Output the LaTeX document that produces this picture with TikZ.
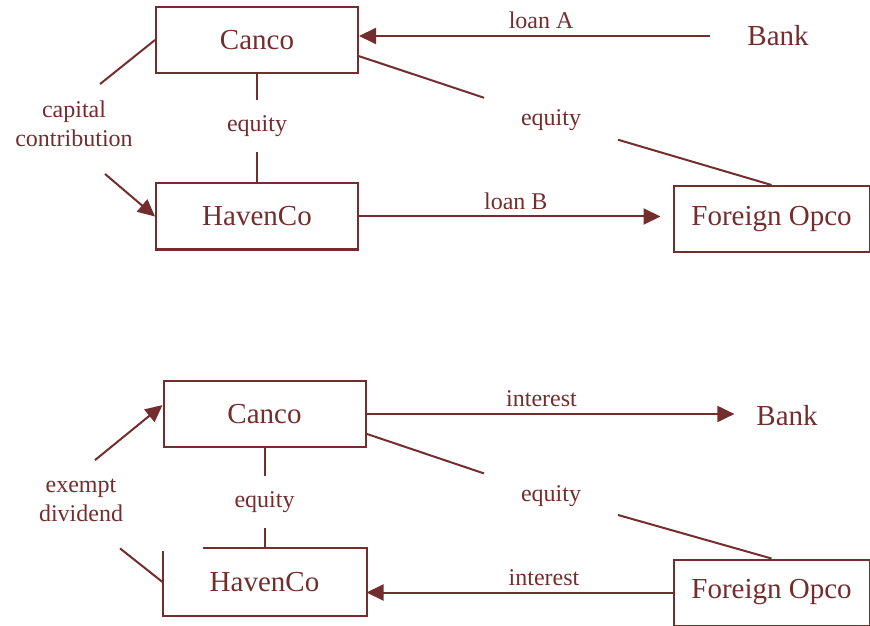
\documentclass[tikz,border=0pt]{standalone}
\usepackage{fontspec}
\setmainfont{Liberation Serif}
\usetikzlibrary{arrows.meta,positioning}
\definecolor{tpbrown}{RGB}{115,45,45}

\begin{document}
\begin{tikzpicture}[x=0.5pt, y=-0.5pt, line width=1pt, color=tpbrown,
    box/.style={draw, minimum width=101pt, minimum height=33pt,
                font=\fontsize{14.5}{17}\selectfont},
    party/.style={font=\fontsize{14.5}{17}\selectfont, inner sep=0pt},
    lbl/.style={font=\fontsize{12}{14.5}\selectfont, inner sep=3pt},
    flow/.style={-{Triangle[length=8.5pt,width=8pt]}}
  ]
    \useasboundingbox (0,0) rectangle (870,625);

    % Top: financing
    \node[box] (canco) at (257,40) {Canco};
    \node[box] (haven) at (257,216.5) {HavenCo};
    \node[box, minimum width=98pt] (opco) at (771.5,219) {Foreign Opco};
    \node[party] (bank) at (778,36) {Bank};

    \draw[flow, shorten <=18pt] (bank.west) -- (bank.west -| canco.east)
      node[lbl, pos=0.53, above] {loan A};
    \draw[flow, shorten >=6pt] (haven.east) -- (haven.east -| opco.west)
      node[lbl, midway, above] {loan B};

    \node[lbl, inner ysep=7pt] (eqv) at (257,126) {equity};
    \draw (canco) -- (eqv);
    \draw (eqv) -- (haven);

    \node[lbl, inner xsep=18pt, inner ysep=6pt] (eqd) at (551,120) {equity};
    \draw (canco.-9.5) -- (eqd);
    \draw (eqd) -- (opco.north);

    \node[lbl, align=center, inner sep=0pt] (cap) at (74,124) {capital\\contribution};
    \draw (canco.west) -- ([shift={(13pt,8pt)}]cap.north);
    \draw[flow] ([shift={(15.5pt,-13pt)}]cap.south) -- (haven.west);

    % Bottom: repayment
    \node[box] (canco2) at (264.5,414) {Canco};
    \node[box, draw=none] (haven2) at (264.5,582) {HavenCo};
    \draw ([xshift=20pt]haven2.north west) -- (haven2.north east)
      -- (haven2.south east) -- (haven2.south west)
      -- ([yshift=-1.5pt]haven2.north west);
    \node[box, minimum width=98pt] (opco2) at (771.5,592.5) {Foreign Opco};
    \node[party] (bank2) at (787,416) {Bank};

    \draw[flow, shorten >=10.5pt] (canco2.east) -- (canco2.east -| bank2.west)
      node[lbl, pos=0.45, above] {interest};
    \draw[flow] (opco2.west) -- (opco2.west -| haven2.east)
      node[lbl, pos=0.42, above] {interest};

    \node[lbl, inner ysep=7pt] (eqv2) at (264.5,502) {equity};
    \draw (canco2) -- (eqv2);
    \draw (eqv2) -- (haven2);

    \node[lbl, inner xsep=18pt, inner ysep=6pt] (eqd2) at (551,496) {equity};
    \draw (canco2.-11.7) -- (eqd2);
    \draw (eqd2) -- (opco2.north);

    \node[lbl, align=center, inner sep=0pt] (exd) at (81,500) {exempt\\dividend};
    \draw[flow] ([shift={(7pt,8.75pt)}]exd.north) -- (canco2.175);
    \draw ([shift={(19.5pt,-13pt)}]exd.south) -- (haven2.west);
\end{tikzpicture}
\end{document}
